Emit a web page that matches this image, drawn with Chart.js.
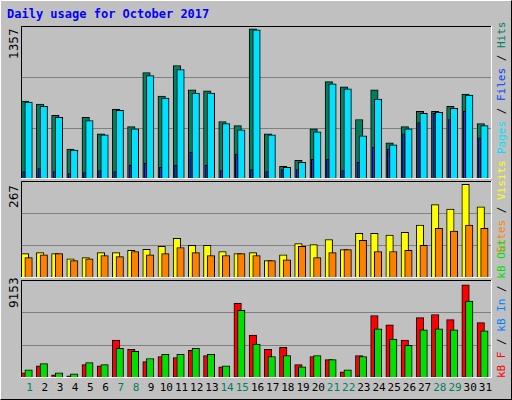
<!DOCTYPE html>
<html>
<head>
<meta charset="utf-8">
<script src="https://cdn.jsdelivr.net/npm/chart.js@4/dist/chart.umd.min.js"></script>
<style>
  body { margin: 0; background: #fff; }
  #wrap { position: relative; width: 510px; height: 398px; background: #c0c0c0;
          border-top: 1px solid #fff; border-left: 1px solid #fff;
          border-right: 1px solid #000; border-bottom: 1px solid #000;
          font-family: "DejaVu Sans Mono", monospace; overflow: hidden; }
  #wrap canvas { position: absolute; }
  .title { position: absolute; left: 6px; top: 6px; color: #0000ff; font-weight: bold; font-size: 12px; }
  .vlab { position: absolute; font-size: 11px; transform-origin: left top; transform: rotate(-90deg); white-space: nowrap; }
  .day { position: absolute; top: 380px; font-size: 11px; width: 16px; text-align: center; }
</style>
</head>
<body>
<div id="wrap">
  <div class="title">Daily usage for October 2017</div>
  <canvas id="c1" style="left:20px;top:25px" width="471" height="153"></canvas>
  <canvas id="c2" style="left:20px;top:180px" width="471" height="97"></canvas>
  <canvas id="c3" style="left:20px;top:279px" width="471" height="98"></canvas>
</div>
<script>
const days = [1,2,3,4,5,6,7,8,9,10,11,12,13,14,15,16,17,18,19,20,21,22,23,24,25,26,27,28,29,30,31];
const weekendDays = [1,7,8,14,15,21,22,28,29];

const hits  = [691,664,564,265,546,401,618,464,944,736,1007,790,781,510,474,1333,401,112,166,446,863,817,528,790,320,464,600,600,645,754,492];
const files = [682,645,546,256,519,392,609,446,917,718,971,763,763,492,437,1324,392,103,148,419,844,799,383,709,302,446,582,591,627,745,474];
const pages = [66,93,66,48,57,75,66,121,139,103,121,238,121,75,220,84,66,84,84,175,175,75,148,283,265,401,500,582,528,600,365];

const visits = [67,70,67,53,56,70,70,76,79,87,109,90,90,73,67,70,48,64,95,92,106,78,123,123,118,126,146,202,190,258,196];
const sites  = [56,64,67,48,53,62,59,73,64,67,84,70,62,62,67,62,48,50,87,56,70,78,104,73,73,76,90,137,129,146,137];

const kbF   = [479,1148,287,191,1244,1148,3541,2680,1531,2010,1914,2584,2105,1053,6985,4019,2680,2871,1244,2010,1723,574,2105,5837,4976,3541,5646,5933,5455,8709,5168];
const kbIn  = [90,90,60,50,90,90,60,60,90,120,120,90,90,60,120,120,60,60,60,120,90,90,200,120,90,90,90,120,90,120,120];
const kbOut = [766,1340,479,383,1435,1244,2775,2488,1818,2201,2201,2775,2201,1148,6316,3158,2010,2105,1053,2105,1723,766,2010,4594,3637,3062,4498,4594,4498,7178,4402];

const maxHits = 1357, maxVisits = 267, maxKB = 9153;

function pts(arr, off) { return arr.map((v, i) => ({ x: days[i] + off, y: v })); }

function ds(arr, off, color, w) {
  return { data: pts(arr, off), backgroundColor: color, borderColor: '#000', borderWidth: 1,
           barThickness: w, grouped: false, borderSkipped: 'bottom' };
}

const frame = {
  id: 'frame',
  afterDraw(chart) {
    const { ctx, chartArea: a } = chart;
    ctx.save();
    ctx.strokeStyle = '#000'; ctx.lineWidth = 1;
    ctx.beginPath(); ctx.moveTo(a.left + 0.5, a.bottom); ctx.lineTo(a.left + 0.5, a.top + 0.5); ctx.lineTo(a.right, a.top + 0.5); ctx.stroke();
    ctx.strokeStyle = '#fff';
    ctx.beginPath(); ctx.moveTo(a.right - 0.5, a.top); ctx.lineTo(a.right - 0.5, a.bottom - 0.5); ctx.lineTo(a.left, a.bottom - 0.5); ctx.stroke();
    ctx.restore();
  }
};

function make(id, max, datasets) {
  new Chart(document.getElementById(id), {
    type: 'bar',
    data: { datasets: datasets },
    options: {
      responsive: false, animation: false,
      layout: { padding: 0 },
      plugins: { legend: { display: false }, tooltip: { enabled: false } },
      scales: {
        x: { type: 'linear', min: 0.5, max: 31.5, offset: false, display: false },
        y: { min: 0, max: max, ticks: { display: false, stepSize: max / 3 },
             border: { display: false },
             grid: { color: '#808080', drawTicks: false } }
      }
    },
    plugins: [frame]
  });
}

make('c1', maxHits, [
  ds(pages, -0.31, '#0040ff', 2.5),
  ds(files, 0, '#00e0ff', 7.5),
  ds(hits, -0.24, '#008060', 7.5)
]);
make('c2', maxVisits, [
  ds(sites, 0, '#ff8000', 7.5),
  ds(visits, -0.24, '#ffff00', 7.5)
]);
make('c3', maxKB, [
  ds(kbIn, -0.31, '#0080ff', 2.5),
  ds(kbOut, 0, '#00e000', 7.5),
  ds(kbF, -0.24, '#ff0000', 7.5)
]);

const wrap = document.getElementById('wrap');
function vlabel(html, left, top) {
  const d = document.createElement('div');
  d.className = 'vlab'; d.innerHTML = html;
  d.style.left = left + 'px'; d.style.top = top + 'px';
  wrap.appendChild(d);
}
vlabel('<span style="color:#000;font-family:\'DejaVu Sans\';font-size:12px">' + maxHits + '</span>', 6, 58);
vlabel('<span style="color:#000;font-family:\'DejaVu Sans\';font-size:12px">' + maxVisits + '</span>', 6, 207);
vlabel('<span style="color:#000;font-family:\'DejaVu Sans\';font-size:12px">' + maxKB + '</span>', 6, 307);
vlabel('<span style="color:#00e0ff">Pages</span> / <span style="color:#0040ff">Files</span> / <span style="color:#008060">Hits</span>', 494, 153);
vlabel('<span style="color:#ff8000">Sites</span> / <span style="color:#ffff00">Visits</span>', 494, 252);
vlabel('<span style="color:#ff0000">kB F</span> / <span style="color:#0080ff">kB In</span> / <span style="color:#00e000">kB Out</span>', 494, 377);

days.forEach(function (d, i) {
  const el = document.createElement('div');
  el.className = 'day';
  el.textContent = d;
  el.style.left = (20 + (i + 0.5) * 471 / 31 - 8 + 1) + 'px';
  el.style.color = weekendDays.includes(d) ? '#008060' : '#000';
  wrap.appendChild(el);
});
</script>
</body>
</html>
